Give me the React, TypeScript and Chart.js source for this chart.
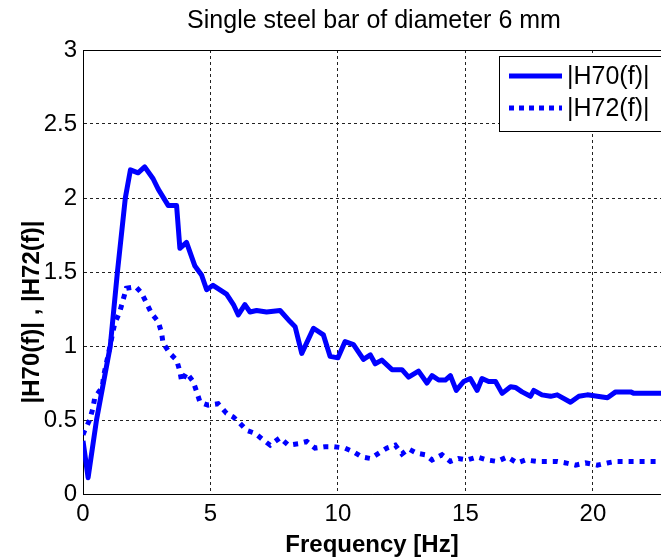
import React, { useEffect, useRef } from "react";
import { Chart, registerables } from "chart.js";

Chart.register(...registerables);

const chartTitle = "Single steel bar of diameter 6 mm";
const xAxisTitle = "Frequency [Hz]";
const yAxisTitle = "|H70(f)| , |H72(f)|";
const seriesLabels = ["|H70(f)|", "|H72(f)|"];

const xTickValues = [0, 5, 10, 15, 20];
const yTickValues = [0, 0.5, 1, 1.5, 2, 2.5, 3];

const h70Freq = [
  0, 0.2, 0.53, 1.07, 1.35, 1.66, 1.86, 2.16, 2.42, 2.75, 2.95, 3.34, 3.67, 3.8, 4.06, 4.39, 4.65, 4.85,
  5.1, 5.63, 5.9, 6.09, 6.35, 6.55, 6.81, 7.2, 7.73, 8.12, 8.32, 8.58, 9.04, 9.43, 9.69, 10.0, 10.28,
  10.61, 11.0, 11.27, 11.46, 11.72, 12.12, 12.51, 12.77, 13.16, 13.49, 13.69, 13.95, 14.21, 14.41,
  14.64, 14.93, 15.19, 15.46, 15.65, 15.91, 16.18, 16.44, 16.77, 16.96, 17.22, 17.55, 17.68, 18.0,
  18.34, 18.6, 19.12, 19.45, 19.78, 20.17, 20.57, 20.89, 21.48, 21.61, 22.7,
];
const h70Mag = [
  0.36, 0.11, 0.5, 1.0, 1.5, 2.0, 2.19, 2.17, 2.21, 2.13, 2.06, 1.95, 1.95, 1.66, 1.7, 1.54, 1.48, 1.38,
  1.41, 1.35, 1.28, 1.21, 1.28, 1.23, 1.24, 1.23, 1.24, 1.165, 1.13, 0.95, 1.12, 1.075, 0.93, 0.92, 1.03,
  1.01, 0.91, 0.94, 0.88, 0.905, 0.84, 0.84, 0.79, 0.83, 0.75, 0.8, 0.77, 0.77, 0.8,
  0.7, 0.76, 0.78, 0.7, 0.78, 0.76, 0.76, 0.68, 0.725, 0.72, 0.69, 0.66, 0.7, 0.67,
  0.66, 0.67, 0.62, 0.66, 0.67, 0.66, 0.65, 0.69, 0.69, 0.68, 0.68,
];

const h72Freq = [
  0, 0.07, 0.26, 0.39, 0.46, 0.76, 0.81, 1.0, 1.24, 1.44, 1.57, 1.7, 2.07, 2.29, 2.49, 2.69, 2.95, 3.08,
  3.14, 3.41, 3.67, 3.8, 3.87, 4.06, 4.32, 4.46, 4.59, 4.91, 5.3, 5.63, 5.9, 6.09, 6.42, 6.75, 7.07,
  7.34, 7.73, 8.05, 8.45, 8.78, 9.1, 9.5, 9.82, 10.28, 10.61, 10.94, 11.27, 11.59, 11.92, 12.25, 12.51,
  12.77, 13.1, 13.43, 13.69, 14.08, 14.41, 14.73, 15.06, 15.46, 15.85, 16.24, 16.64, 17.03, 17.36,
  17.81, 18.6, 18.93, 19.32, 19.71, 20.17, 20.57, 20.89, 22.7,
];
const h72Mag = [
  0.4, 0.43, 0.5, 0.58, 0.65, 0.725, 0.8, 0.95, 1.15, 1.23, 1.31, 1.39, 1.4, 1.36, 1.29, 1.22, 1.165, 1.09,
  1.02, 0.95, 0.905, 0.83, 0.76, 0.82, 0.76, 0.69, 0.62, 0.6, 0.61, 0.545, 0.52, 0.49, 0.43, 0.41, 0.365,
  0.33, 0.38, 0.33, 0.34, 0.355, 0.31, 0.32, 0.32, 0.31, 0.285, 0.25, 0.24, 0.275, 0.31, 0.33, 0.27,
  0.305, 0.275, 0.265, 0.23, 0.265, 0.22, 0.24, 0.23, 0.25, 0.23, 0.22, 0.25, 0.21, 0.23,
  0.22, 0.22, 0.21, 0.195, 0.21, 0.195, 0.21, 0.22, 0.22,
];

const BLUE = "#0000ff";
const FONT = "'Liberation Sans', Arial, Helvetica, sans-serif";

const decorPlugin = {
  id: "decor",
  afterDraw(chart: any) {
    const { ctx, chartArea } = chart;
    const { left, right, top } = chartArea;
    ctx.save();
    // top border
    ctx.strokeStyle = "#000";
    ctx.lineWidth = 1;
    ctx.beginPath();
    ctx.moveTo(left, top + 0.5);
    ctx.lineTo(right, top + 0.5);
    ctx.stroke();

    // title
    ctx.fillStyle = "#000";
    ctx.textAlign = "center";
    ctx.textBaseline = "middle";
    ctx.font = `25px ${FONT}`;
    ctx.fillText(chartTitle, 374, 21);

    // axis titles
    ctx.font = `bold 24px ${FONT}`;
    ctx.fillText(xAxisTitle, 372, 545);
    ctx.save();
    ctx.translate(32, 312);
    ctx.rotate(-Math.PI / 2);
    ctx.fillText(yAxisTitle, 0, 0);
    ctx.restore();

    // legend
    const lx = 499.5, ly = 56.5, lw = 200, lh = 75;
    ctx.fillStyle = "#fff";
    ctx.fillRect(lx, ly, lw, lh);
    ctx.strokeStyle = "#000";
    ctx.lineWidth = 1;
    ctx.strokeRect(lx, ly, lw, lh);
    const rows = [
      { y: 76, dash: [] as number[] },
      { y: 108, dash: [5, 5] },
    ];
    rows.forEach((r, i) => {
      ctx.strokeStyle = BLUE;
      ctx.lineWidth = 5;
      ctx.lineCap = "butt";
      ctx.setLineDash(r.dash);
      ctx.beginPath();
      ctx.moveTo(509, r.y);
      ctx.lineTo(562, r.y);
      ctx.stroke();
      ctx.setLineDash([]);
      ctx.fillStyle = "#000";
      ctx.textAlign = "left";
      ctx.textBaseline = "middle";
      ctx.font = `25px ${FONT}`;
      ctx.fillText(seriesLabels[i], 567, r.y + 1);
    });
    ctx.restore();
  },
};

export default function App() {
  const ref = useRef<HTMLCanvasElement | null>(null);

  useEffect(() => {
    if (!ref.current) return;
    const chart = new Chart(ref.current, {
      type: "line",
      data: {
        datasets: [
          {
            label: seriesLabels[0],
            data: h70Freq.map((f, i) => ({ x: f, y: h70Mag[i] })),
            borderColor: BLUE,
            backgroundColor: BLUE,
            borderWidth: 5,
            pointRadius: 0,
            tension: 0,
            borderJoinStyle: "round",
          },
          {
            label: seriesLabels[1],
            data: h72Freq.map((f, i) => ({ x: f, y: h72Mag[i] })),
            borderColor: BLUE,
            backgroundColor: BLUE,
            borderWidth: 5,
            borderDash: [5, 6],
            pointRadius: 0,
            tension: 0,
          },
        ],
      },
      options: {
        responsive: false,
        animation: false,
        events: [],
        layout: { padding: { top: 50, left: 0, right: 0, bottom: 0 } },
        plugins: {
          legend: { display: false },
          title: { display: false },
          tooltip: { enabled: false },
        },
        scales: {
          x: {
            type: "linear",
            min: 0,
            max: 22.67,
            afterFit: (s: any) => {
              s.height = 65;
            },
            afterBuildTicks: (s: any) => {
              s.ticks = xTickValues.map((v) => ({ value: v }));
            },
            ticks: {
              includeBounds: false,
              autoSkip: false,
              maxRotation: 0,
              padding: 6,
              color: "#000",
              font: { family: FONT, size: 24 },
              callback: (v: any) => String(v),
            },
            grid: { color: "#222", lineWidth: 1, drawTicks: false },
            border: { display: true, color: "#000", width: 1, dash: [3, 3] },
          },
          y: {
            type: "linear",
            min: 0,
            max: 3,
            afterFit: (s: any) => {
              s.width = 83;
            },
            afterBuildTicks: (s: any) => {
              s.ticks = yTickValues.map((v) => ({ value: v }));
            },
            ticks: {
              autoSkip: false,
              padding: 6,
              color: "#000",
              font: { family: FONT, size: 24 },
              callback: (v: any) => String(v),
            },
            grid: { color: "#222", lineWidth: 1, drawTicks: false },
            border: { display: true, color: "#000", width: 1, dash: [3, 3] },
          },
        },
      },
      plugins: [decorPlugin],
    });
    return () => chart.destroy();
  }, []);

  return (
    <div style={{ position: "fixed", left: 0, top: 0, width: 661, height: 559, background: "#fff" }}>
      <canvas ref={ref} width={661} height={559} />
    </div>
  );
}
